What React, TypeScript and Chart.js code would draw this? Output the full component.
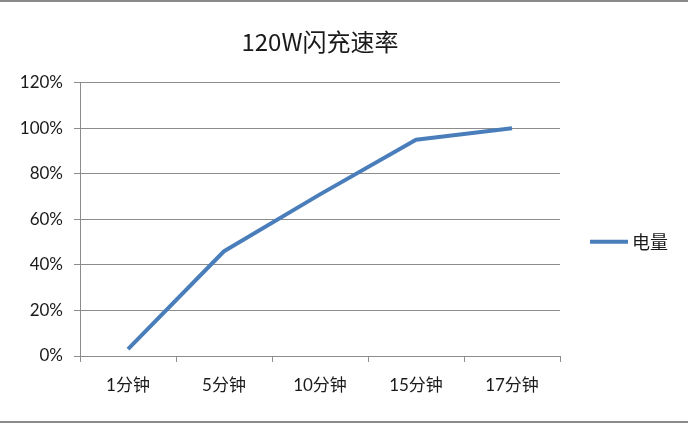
import React, { useEffect, useRef } from "react";
import { Chart, registerables } from "chart.js";

Chart.register(...registerables);

const categories = ["1分钟", "5分钟", "10分钟", "15分钟", "17分钟"];
const seriesName = "电量";
const seriesValues = [3, 46, 71, 95, 100];
const yMin = 0;
const yMax = 120;
const yStep = 20;
const titleText = "120W闪充速率";

const LINE_COLOR = "#4A7EBB";
const GRID_COLOR = "#8c8c8c";
const TEXT_COLOR = "#1a1a1a";
const LATIN = "Lato, 'Noto Sans CJK SC', sans-serif";
const CJK = "'Noto Sans CJK SC', sans-serif";

const legendPlugin = {
  id: "sideLegend",
  afterDraw(chart: any) {
    const { ctx, chartArea } = chart;
    const ds = chart.data.datasets[0];
    const y = chartArea.top + 159;
    const x0 = chartArea.right + 30;
    ctx.save();
    ctx.strokeStyle = ds.borderColor;
    ctx.lineWidth = 4;
    ctx.beginPath();
    ctx.moveTo(x0, y);
    ctx.lineTo(x0 + 38, y);
    ctx.stroke();
    ctx.fillStyle = TEXT_COLOR;
    ctx.font = "18px " + CJK;
    ctx.textBaseline = "middle";
    ctx.textAlign = "left";
    ctx.fillText(ds.label, x0 + 42, y);
    ctx.restore();
  },
};

const framePlugin = {
  id: "frame",
  beforeDraw(chart: any) {
    const { ctx, width, height } = chart;
    ctx.save();
    ctx.fillStyle = "#ffffff";
    ctx.fillRect(0, 0, width, height);
    ctx.fillStyle = "#8a8a8a";
    ctx.fillRect(0, 0, width, 2);
    ctx.fillRect(0, height - 2, width, 2);
    ctx.restore();
  },
};

export default function App() {
  const ref = useRef<HTMLCanvasElement | null>(null);
  useEffect(() => {
    document.body.style.margin = "0";
    const chart = new Chart(ref.current as HTMLCanvasElement, {
      type: "line",
      data: {
        labels: categories,
        datasets: [
          {
            label: seriesName,
            data: seriesValues,
            borderColor: LINE_COLOR,
            backgroundColor: LINE_COLOR,
            borderWidth: 4,
            pointRadius: 0,
            tension: 0,
            borderJoinStyle: "round",
            borderCapStyle: "butt",
          },
        ],
      },
      options: {
        animation: false,
        responsive: false,
        maintainAspectRatio: false,
        layout: { padding: { left: 0, right: 128, top: 0, bottom: 0 } },
        plugins: {
          legend: { display: false },
          tooltip: { enabled: false },
          title: {
            display: true,
            text: titleText,
            fullSize: false,
            color: TEXT_COLOR,
            font: { family: CJK, size: 24, weight: "normal" as any, lineHeight: 1.2 },
            padding: { top: 27, bottom: 27 },
          },
        },
        scales: {
          x: {
            offset: true,
            grid: {
              display: true,
              offset: true,
              drawOnChartArea: false,
              drawTicks: true,
              tickLength: 6,
              color: GRID_COLOR,
            },
            border: { display: true, color: GRID_COLOR, width: 1 },
            ticks: {
              color: TEXT_COLOR,
              font: { family: LATIN, size: 17 },
              padding: 13,
              maxRotation: 0,
              autoSkip: false,
            },
            afterFit(scale: any) {
              scale.height = 67;
            },
          },
          y: {
            min: yMin,
            max: yMax,
            grid: {
              color: GRID_COLOR,
              tickLength: 6,
              drawTicks: true,
            },
            border: { display: true, color: GRID_COLOR, width: 1 },
            ticks: {
              stepSize: yStep,
              color: TEXT_COLOR,
              font: { family: LATIN, size: 17 },
              padding: 11,
              callback: (v: any) => v + "%",
            },
            afterFit(scale: any) {
              scale.width = 80;
            },
          },
        },
      },
      plugins: [framePlugin, legendPlugin],
    });
    return () => chart.destroy();
  }, []);
  return (
    <div style={{ width: 688, height: 423 }}>
      <canvas ref={ref} width={688} height={423} style={{ display: "block", width: 688, height: 423 }} />
    </div>
  );
}
